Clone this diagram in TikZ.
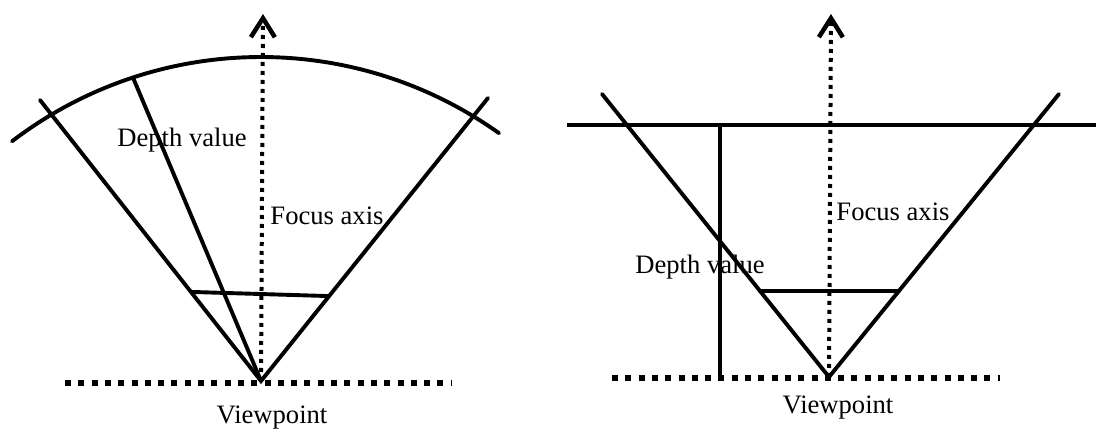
\documentclass[tikz,border=0pt]{standalone}
\usepackage{fontspec}
\setmainfont{Liberation Serif}
\usetikzlibrary{arrows.meta,calc}
\tikzset{ray/.style={line width=3.9pt,line cap=round},groundline/.style={line width=5.5pt,dash pattern=on 6pt off 7.3pt},focusline/.style={line width=4pt,dash pattern=on 4pt off 5pt,-{Straight Barb[length=19pt,width=24pt,line width=4.5pt]}},lbl/.style={font=\fontsize{26.6}{30}\selectfont,inner sep=0pt}}

\begin{document}
\begin{tikzpicture}[x=1pt,y=1pt]
      \useasboundingbox(0,0)rectangle(1096,435);
      \coordinate(v1)at(261,54);\coordinate(c1)at(261,-32);\coordinate(l1)at(40,335);\coordinate(r1)at(488,337);
      \coordinate(d1)at($(c1)+(108.2:410)$);\coordinate(t1)at(263,421);
      \coordinate(g1a)at(65,52);\coordinate(g1b)at(452,52);
      \draw[groundline](g1a)--(g1b);\draw[focusline](v1)--(t1);
      \draw[ray](l1)--(v1)--(r1);\draw[ray](v1)--(d1);
      \draw[ray]($(c1)+(127.4:410)$)arc[start angle=127.4,end angle=54.5,radius=410];
      \draw[ray]($(v1)!0.317!(l1)$)--($(v1)!0.30!(r1)$);
      \node[lbl](dv1)at(182,295){Depth value};\node[lbl](fa1)at(327,219){Focus axis};\node[lbl](vp1)at(272,17){Viewpoint};
      \coordinate(v2)at(829,58);\coordinate(l2)at(602,341);\coordinate(r2)at(1059,341);\coordinate(t2)at(831,421);
      \coordinate(g2a)at(612,57);\coordinate(g2b)at(1000,57);\coordinate(h2a)at(567,310);\coordinate(h2b)at(1096,310);
      \coordinate(p2a)at(720,310);\coordinate(p2b)at(720,57);
      \draw[groundline](g2a)--(g2b);\draw[focusline](v2)--(t2);
      \draw[ray](l2)--(v2)--(r2);\draw[ray,line cap=butt](h2a)--(h2b);\draw[ray,line cap=butt](p2a)--(p2b);
      \draw[ray]($(v2)!0.304!(l2)$)--($(v2)!0.304!(r2)$);
      \node[lbl](dv2)at(700,168){Depth value};\node[lbl](fa2)at(893,223){Focus axis};\node[lbl](vp2)at(838,27){Viewpoint};
    \end{tikzpicture}
\end{document}
